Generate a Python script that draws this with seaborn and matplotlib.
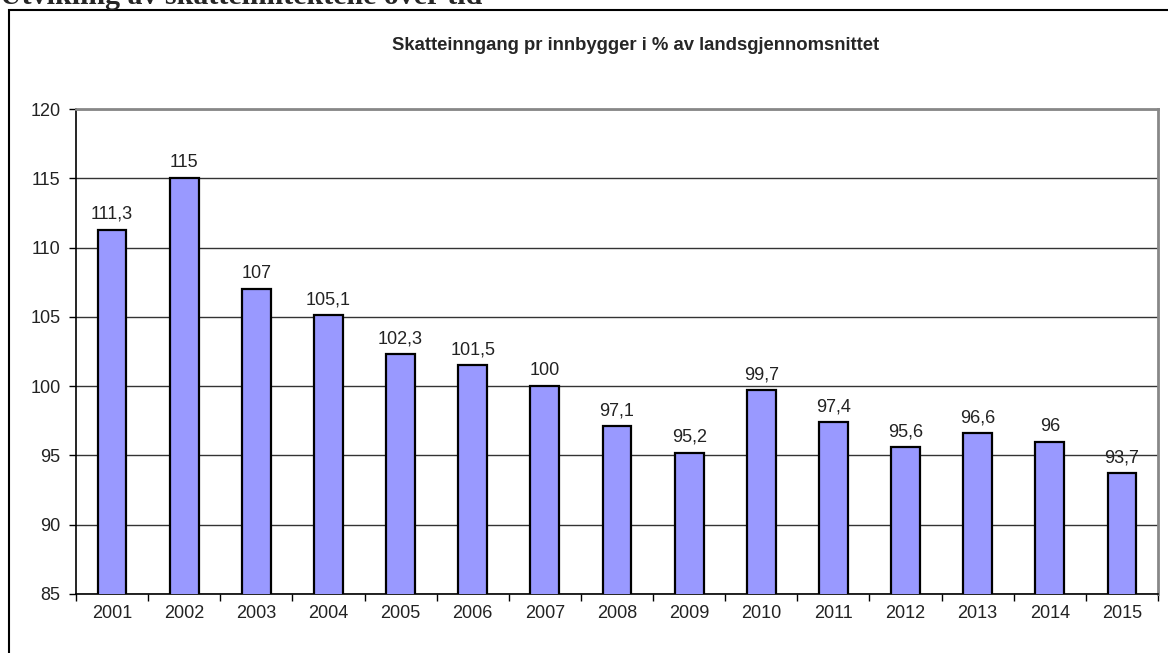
import seaborn as sns
import matplotlib.pyplot as plt
import matplotlib.patches as patches
import pandas as pd

years = ["2001", "2002", "2003", "2004", "2005", "2006", "2007", "2008",
         "2009", "2010", "2011", "2012", "2013", "2014", "2015"]
values = [111.3, 115, 107, 105.1, 102.3, 101.5, 100, 97.1,
          95.2, 99.7, 97.4, 95.6, 96.6, 96, 93.7]
yticks = [85, 90, 95, 100, 105, 110, 115, 120]

df = pd.DataFrame({"year": years, "value": values})

sns.set_style("white")
plt.rcParams["font.family"] = ["Liberation Sans", "DejaVu Sans"]

fig = plt.figure(figsize=(11.68, 6.53), dpi=100)
ax = fig.add_axes([76 / 1168, 59 / 653, 1082 / 1168, 485 / 653])

sns.barplot(data=df, x="year", y="value", color="#9999FF", saturation=1,
            edgecolor="black", linewidth=1.6, width=0.4, ax=ax, zorder=3)

ax.set_ylim(85, 120)
ax.set_xlim(-0.5, len(years) - 0.5)
ax.set_yticks(yticks)
ax.set_yticklabels([str(t) for t in yticks], fontsize=13, color="#222222")
ax.tick_params(axis="y", length=5, width=1, color="black", pad=6, left=True)
ax.tick_params(axis="x", which="major", length=0, pad=8, labelsize=13,
               labelcolor="#222222")
ax.set_xticks([i - 0.5 for i in range(len(years) + 1)], minor=True)
ax.tick_params(axis="x", which="minor", length=5, width=1, color="black",
               bottom=True)
ax.grid(axis="y", color="#333333", linewidth=1, zorder=0)
ax.set_axisbelow(True)
ax.set_xlabel("")
ax.set_ylabel("")

for side in ["left", "bottom"]:
    ax.spines[side].set_color("black")
    ax.spines[side].set_linewidth(1.2)
for side in ["top", "right"]:
    ax.spines[side].set_visible(True)
    ax.spines[side].set_color("#888888")
    ax.spines[side].set_linewidth(2)

labels = [f"{v:g}".replace(".", ",") for v in values]
ax.bar_label(ax.containers[0], labels=labels, padding=5, fontsize=13,
             color="#222222")

fig.text(636 / 1168, 1 - 45 / 653, "Skatteinngang pr innbygger i % av landsgjennomsnittet",
         ha="center", va="center", fontsize=13.3, fontweight="bold")

fig.text(0, 1 - 4 / 653, "Utvikling av skatteinntektene over tid",
         ha="left", va="baseline", fontsize=21.5, fontweight="bold",
         family=["Liberation Serif", "DejaVu Serif"])

box = patches.Rectangle((9 / 1168, -0.1), 1.2, 1.1 - 10 / 653,
                        transform=fig.transFigure, fill=False,
                        edgecolor="black", linewidth=1.5, clip_on=False)
fig.patches.append(box)

fig.savefig("out.png", dpi=100)
